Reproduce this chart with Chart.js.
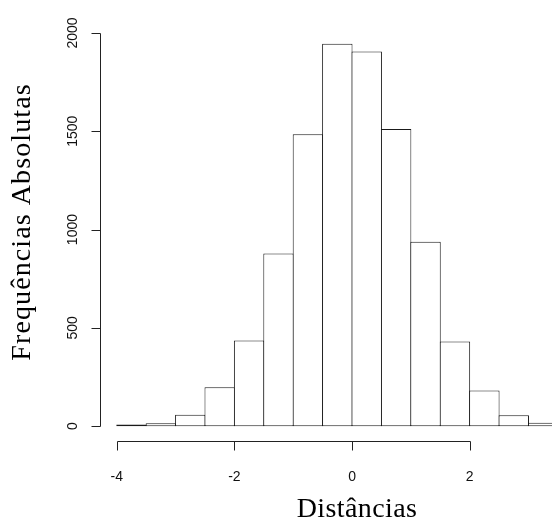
<!DOCTYPE html>
<html lang="pt-BR">
<head>
  <meta charset="UTF-8" />
  <title>Histograma de Distâncias</title>
  <script src="https://cdn.jsdelivr.net/npm/chart.js"></script>
  <style>
    * { margin: 0; padding: 0; box-sizing: border-box; }
    body { background: #ffffff; }
    #wrap { width: 552px; height: 523px; }
  </style>
</head>
<body>
  <div id="wrap">
    <canvas id="hist" width="552" height="523"></canvas>
  </div>

  <script>
    // classes do histograma (centro de cada classe de largura 0.5)
    const binMids = [-3.75, -3.25, -2.75, -2.25, -1.75, -1.25, -0.75, -0.25, 0.25, 0.75, 1.25, 1.75, 2.25, 2.75, 3.25];
    const counts = [8, 15, 58, 198, 436, 878, 1485, 1945, 1906, 1512, 938, 430, 181, 56, 17];

    const xTicks = [-4, -2, 0, 2];
    const yTicks = [0, 500, 1000, 1500, 2000];

    const xTitle = 'Distâncias';
    const yTitle = 'Frequências Absolutas';

    // eixos no estilo R (afastados da área do gráfico)
    const rAxes = {
      id: 'rAxes',
      afterDraw(chart) {
        const ctx = chart.ctx;
        const xs = chart.scales.x;
        const ys = chart.scales.y;
        const axisX = 100.5;
        const axisY = 441.5;
        const tick = 9;

        ctx.save();
        ctx.strokeStyle = '#222';
        ctx.lineWidth = 1;
        ctx.fillStyle = '#111';
        ctx.font = '14px "Liberation Sans", Arial, sans-serif';

        // eixo y
        const yTop = Math.round(ys.getPixelForValue(yTicks[yTicks.length - 1])) + 0.5;
        const yBot = Math.round(ys.getPixelForValue(yTicks[0])) + 0.5;
        ctx.beginPath();
        ctx.moveTo(axisX, yTop);
        ctx.lineTo(axisX, yBot);
        yTicks.forEach(v => {
          const py = Math.round(ys.getPixelForValue(v)) + 0.5;
          ctx.moveTo(axisX, py);
          ctx.lineTo(axisX - tick, py);
        });
        ctx.stroke();
        ctx.textAlign = 'center';
        ctx.textBaseline = 'middle';
        yTicks.forEach(v => {
          const py = ys.getPixelForValue(v);
          ctx.save();
          ctx.translate(73, py);
          ctx.rotate(-Math.PI / 2);
          ctx.fillText(String(v), 0, 0);
          ctx.restore();
        });

        // eixo x
        const xL = Math.round(xs.getPixelForValue(xTicks[0])) + 0.5;
        const xR = Math.round(xs.getPixelForValue(xTicks[xTicks.length - 1])) + 0.5;
        ctx.beginPath();
        ctx.moveTo(xL, axisY);
        ctx.lineTo(xR, axisY);
        xTicks.forEach(v => {
          const px = Math.round(xs.getPixelForValue(v)) + 0.5;
          ctx.moveTo(px, axisY);
          ctx.lineTo(px, axisY + tick);
        });
        ctx.stroke();
        xTicks.forEach(v => {
          ctx.fillText(String(v), xs.getPixelForValue(v), 477);
        });

        // títulos
        ctx.fillStyle = '#000';
        ctx.font = '28px "Liberation Serif", "Times New Roman", serif';
        ctx.letterSpacing = '0.4px';
        ctx.fillText(xTitle, 357, 510);
        ctx.letterSpacing = '1.1px';
        ctx.save();
        ctx.translate(23, 222);
        ctx.rotate(-Math.PI / 2);
        ctx.fillText(yTitle, 0, 0);
        ctx.restore();
        ctx.restore();
      }
    };

    const ctx = document.getElementById('hist').getContext('2d');
    const chart = new Chart(ctx, {
      type: 'bar',
      data: {
        datasets: [{
          data: binMids.map((m, i) => ({ x: m, y: counts[i] })),
          backgroundColor: '#ffffff',
          borderColor: '#1a1a1a',
          borderWidth: 1,
          borderSkipped: false,
          barPercentage: 1.034,
          categoryPercentage: 1
        }]
      },
      options: {
        responsive: false,
        animation: false,
        layout: { padding: { left: 105, right: 0, top: 20, bottom: 89 } },
        plugins: { legend: { display: false }, tooltip: { enabled: false } },
        scales: {
          x: {
            type: 'linear',
            display: false,
            offset: false,
            min: -4.2,
            max: 3.4,
            afterBuildTicks: s => { s.ticks = xTicks.map(v => ({ value: v })); }
          },
          y: {
            display: false,
            min: -40,
            max: 2066,
            afterBuildTicks: s => { s.ticks = yTicks.map(v => ({ value: v })); }
          }
        }
      },
      plugins: [rAxes]
    });
  </script>
</body>
</html>
